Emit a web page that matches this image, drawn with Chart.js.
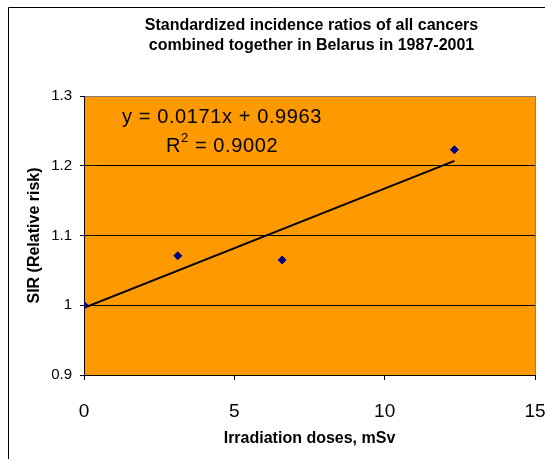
<!DOCTYPE html>
<html>
<head>
<meta charset="utf-8">
<script src="https://cdn.jsdelivr.net/npm/chart.js@4/dist/chart.umd.min.js"></script>
<style>
  html, body { margin: 0; padding: 0; background: #fff; }
  #wrap { width: 545px; height: 459px; position: relative; }
</style>
</head>
<body>
<div id="wrap"><canvas id="sirChart"></canvas></div>
<script>
// doses (mSv) and SIR values
const doses = [0, 3.12, 6.59, 12.32];
const sirValues = [1.0, 1.071, 1.065, 1.223];

// linear trend line shown in the original (end points)
const trendX = [0, 12.32];
const trendY = [0.9963, 1.2070];

const yTicks = [0.9, 1.0, 1.1, 1.2, 1.3];
const xTicks = [0, 5, 10, 15];

const titleLines = [
  'Standardized incidence ratios of all cancers',
  'combined together in Belarus in 1987-2001'
];
const equationText = 'y = 0.0171x + 0.9963';
const r2Value = '0.9002';

const FONT = 'Arial, "Liberation Sans", sans-serif';

// orange plot area, outer frame, centred title and the trendline label
const decorPlugin = {
  id: 'decor',
  beforeDraw(chart) {
    const { ctx, chartArea: a } = chart;
    ctx.save();
    ctx.fillStyle = '#FF9900';
    ctx.fillRect(a.left, a.top, a.right - a.left, a.bottom - a.top);
    // outer chart frame (cut off at right/bottom)
    ctx.strokeStyle = '#000';
    ctx.lineWidth = 1;
    ctx.beginPath();
    ctx.moveTo(8.5, 470);
    ctx.lineTo(8.5, 7.5);
    ctx.lineTo(560, 7.5);
    ctx.stroke();

    // title, centred over the plot area
    ctx.fillStyle = '#000';
    ctx.font = 'bold 16px ' + FONT;
    ctx.textAlign = 'center';
    ctx.textBaseline = 'middle';
    const tx = (a.left + a.right) / 2 + 2;
    titleLines.forEach((line, i) => ctx.fillText(line, tx, 26 + i * 19.5));
    ctx.restore();
  },
  afterDraw(chart) {
    const { ctx, chartArea: a } = chart;
    const cx = a.left + 138;
    ctx.save();
    ctx.fillStyle = '#000';
    ctx.letterSpacing = '0.6px';
    ctx.font = '20px ' + FONT;
    ctx.textAlign = 'center';
    ctx.textBaseline = 'middle';
    ctx.fillText(equationText, cx, a.top + 21);
    // R^2 line with superscript
    const rPart = 'R';
    const rest = ' = ' + r2Value;
    const wR = ctx.measureText(rPart).width;
    ctx.font = '13px ' + FONT;
    const wSup = ctx.measureText('2').width;
    ctx.font = '20px ' + FONT;
    const wRest = ctx.measureText(rest).width;
    let x = cx - (wR + wSup + wRest) / 2;
    const y = a.top + 50;
    ctx.textAlign = 'left';
    ctx.fillText(rPart, x, y);
    x += wR;
    ctx.font = '13px ' + FONT;
    ctx.fillText('2', x, y - 8);
    x += wSup;
    ctx.font = '20px ' + FONT;
    ctx.fillText(rest, x, y);
    ctx.restore();
  }
};

const near = (a, b) => Math.abs(a - b) < 1e-6;

new Chart(document.getElementById('sirChart'), {
  type: 'scatter',
  data: {
    datasets: [
      {
        label: 'SIR',
        data: doses.map((d, i) => ({ x: d, y: sirValues[i] })),
        pointStyle: 'rectRot',
        pointRadius: 4,
        backgroundColor: '#000080',
        borderColor: '#000080',
        borderWidth: 1,
        order: 0
      },
      {
        label: 'Linear trend',
        data: trendX.map((d, i) => ({ x: d, y: trendY[i] })),
        showLine: true,
        borderColor: '#000',
        borderWidth: 2,
        pointRadius: 0,
        order: 1
      }
    ]
  },
  options: {
    responsive: true,
    maintainAspectRatio: false,
    animation: false,
    layout: { padding: { top: 96, left: 8, right: 10, bottom: 0 } },
    plugins: {
      legend: { display: false },
      tooltip: { enabled: false },
      title: { display: false }
    },
    scales: {
      x: {
        type: 'linear',
        min: 0,
        max: 15,
        afterBuildTicks: s => { s.ticks = xTicks.map(v => ({ value: v })); },
        afterFit: s => { s.height = 84; s.paddingLeft = 0; s.paddingRight = 0; },
        border: { color: '#000', width: 1 },
        grid: {
          color: c => (c.tick && c.tick.value === 15 ? '#808080' : 'rgba(0,0,0,0)'),
          tickColor: '#000',
          tickLength: 5
        },
        ticks: {
          color: '#000',
          font: { family: FONT, size: 19 },
          padding: 20,
          maxRotation: 0
        },
        title: {
          display: true,
          text: 'Irradiation doses, mSv',
          color: '#000',
          font: { family: FONT, size: 16, weight: 'bold' },
          padding: { top: 0, bottom: 11 }
        }
      },
      y: {
        type: 'linear',
        min: 0.9,
        max: 1.3,
        afterBuildTicks: s => { s.ticks = yTicks.map(v => ({ value: v })); },
        afterFit: s => { s.width = 76; s.paddingTop = 0; s.paddingBottom = 0; },
        border: { color: '#000', width: 1 },
        grid: {
          color: c => (c.tick && near(c.tick.value, 1.3) ? '#808080' : '#000'),
          tickColor: '#000',
          tickLength: 4
        },
        ticks: {
          color: '#000',
          font: { family: FONT, size: 15 },
          padding: 8,
          callback: v => String(+Number(v).toFixed(1))
        },
        title: {
          display: true,
          text: 'SIR (Relative risk)',
          color: '#000',
          font: { family: FONT, size: 16, weight: 'bold' },
          padding: { top: 17, bottom: 0 }
        }
      }
    }
  },
  plugins: [decorPlugin]
});
</script>
</body>
</html>
